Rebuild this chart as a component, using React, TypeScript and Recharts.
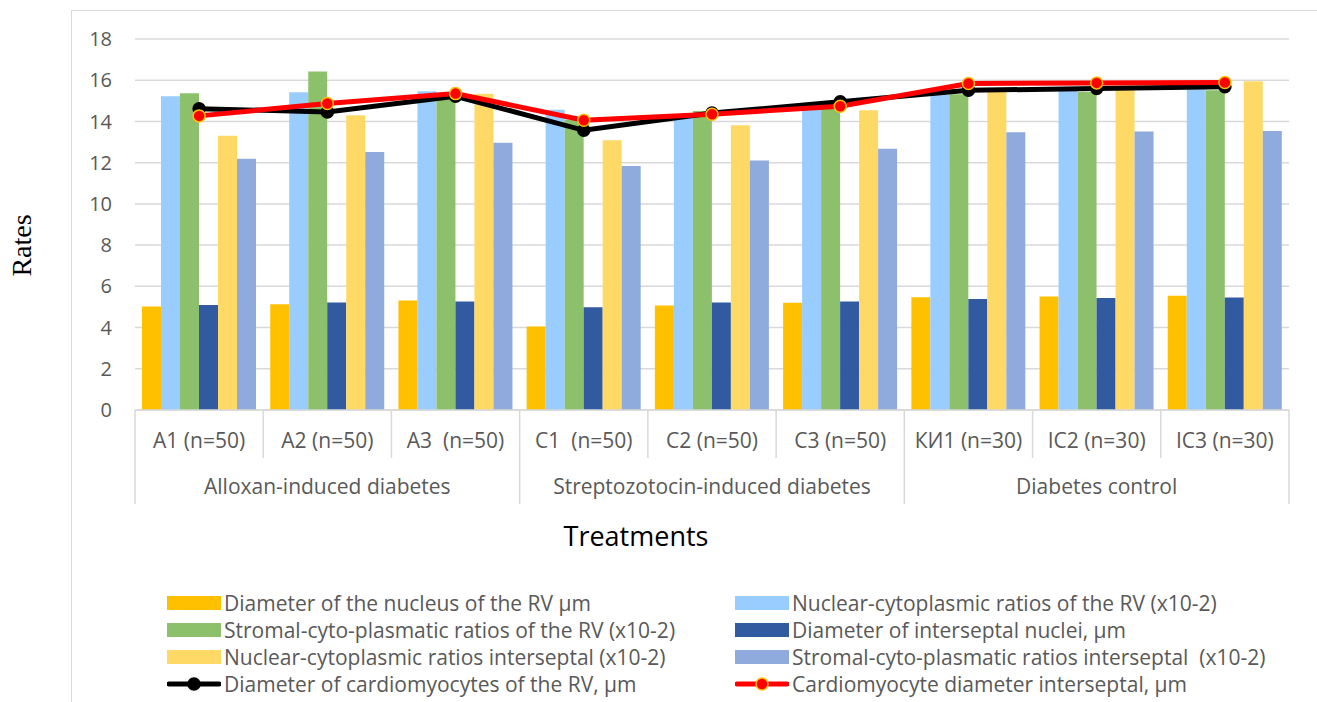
import { Bar, CartesianGrid, ComposedChart, Line, XAxis, YAxis } from "recharts";

const categories = [
  "A1 (n=50)",
  "A2 (n=50)",
  "A3  (n=50)",
  "C1  (n=50)",
  "C2 (n=50)",
  "C3 (n=50)",
  "КИ1 (n=30)",
  "IC2 (n=30)",
  "IC3 (n=30)",
];
const groups = ["Alloxan-induced diabetes", "Streptozotocin-induced diabetes", "Diabetes control"];
const yTicks = [0, 2, 4, 6, 8, 10, 12, 14, 16, 18];

const nucleusRV = [5.02, 5.13, 5.31, 4.05, 5.07, 5.2, 5.47, 5.51, 5.54];
const ncRatioRV = [15.22, 15.42, 15.47, 14.57, 14.3, 14.6, 15.3, 15.5, 15.55];
const stromalRV = [15.37, 16.42, 15.2, 14.1, 14.51, 14.7, 15.32, 15.43, 15.51];
const nucleiSeptal = [5.1, 5.21, 5.26, 4.99, 5.21, 5.26, 5.38, 5.43, 5.46];
const ncRatioSeptal = [13.3, 14.3, 15.34, 13.09, 13.81, 14.54, 15.5, 15.6, 15.95];
const stromalSeptal = [12.19, 12.52, 12.97, 11.84, 12.11, 12.68, 13.47, 13.51, 13.54];
const cardioRV = [14.62, 14.46, 15.22, 13.57, 14.41, 14.95, 15.51, 15.6, 15.68];
const cardioSeptal = [14.27, 14.87, 15.35, 14.06, 14.35, 14.74, 15.84, 15.87, 15.89];

const bars = [
  { key: "nucleusRV", name: "Diameter of the nucleus of the RV µm", color: "#FFC000", values: nucleusRV },
  { key: "ncRatioRV", name: "Nuclear-cytoplasmic ratios of the RV (x10-2)", color: "#99CCFF", values: ncRatioRV },
  { key: "stromalRV", name: "Stromal-cyto-plasmatic ratios of the RV (x10-2)", color: "#8DC06A", values: stromalRV },
  { key: "nucleiSeptal", name: "Diameter of interseptal nuclei, µm", color: "#325AA0", values: nucleiSeptal },
  { key: "ncRatioSeptal", name: "Nuclear-cytoplasmic ratios interseptal (x10-2)", color: "#FFD966", values: ncRatioSeptal },
  { key: "stromalSeptal", name: "Stromal-cyto-plasmatic ratios interseptal  (x10-2)", color: "#8FAADC", values: stromalSeptal },
];

const lines = [
  { key: "cardioRV", name: "Diameter of cardiomyocytes of the RV, µm", color: "#000000", dot: "#000000", values: cardioRV },
  { key: "cardioSeptal", name: "Cardiomyocyte diameter interseptal, µm", color: "#FF0000", dot: "#FFC000", values: cardioSeptal },
];

const data = categories.map((label, i) => {
  const row: Record<string, string | number> = { label };
  bars.forEach((b) => (row[b.key] = b.values[i]));
  lines.forEach((l) => (row[l.key] = l.values[i]));
  return row;
});

const FONT = "'Open Sans', sans-serif";
const TEXT = "#595959";
const GRID = "#d9d9d9";

// two-level category axis: sample label, separators and group name
function TreatmentTick(props: any) {
  const { x, y, payload, index } = props;
  const half = payload.offset ?? 64;
  const i = payload.index ?? index;
  const last = i === categories.length - 1;
  const groupStart = i % 3 === 0;
  return (
    <g>
      <line x1={x - half} x2={x - half} y1={y - 8} y2={groupStart ? y + 86 : y + 40} stroke={GRID} strokeWidth={1.5} />
      {last && <line x1={x + half} x2={x + half} y1={y - 8} y2={y + 86} stroke={GRID} strokeWidth={1.5} />}
      <text x={x} y={y + 30} textAnchor="middle" fill={TEXT} fontSize={21} fontFamily={FONT} style={{ whiteSpace: "pre" }}>
        {payload.value}
      </text>
      {i % 3 === 1 && (
        <text x={x} y={y + 76} textAnchor="middle" fill={TEXT} fontSize={21} fontFamily={FONT}>
          {groups[Math.floor(i / 3)]}
        </text>
      )}
    </g>
  );
}

function TreatmentsLabel(props: any) {
  const { viewBox } = props;
  return (
    <text x={636} y={viewBox.y + viewBox.height - 4} textAnchor="middle" fill="#000" fontSize={27} fontFamily={FONT}>
      Treatments
    </text>
  );
}

function RatesLabel(props: any) {
  const { viewBox } = props;
  const cx = viewBox.x + 21;
  const cy = viewBox.y + viewBox.height / 2 + 21;
  return (
    <text x={cx} y={cy} transform={`rotate(-90 ${cx} ${cy})`} textAnchor="middle" dominantBaseline="central" fontFamily="'Liberation Serif', 'Times New Roman', serif" fontSize={28} fill="#000">
      Rates
    </text>
  );
}

function LegendIcon({ item }: { item: any }) {
  if (item.dot) {
    return (
      <svg width={54} height={18} style={{ display: "block" }}>
        <line x1={2} x2={52} y1={9} y2={9} stroke={item.color} strokeWidth={5} strokeLinecap="round" />
        <circle cx={27} cy={9} r={6} fill={item.color} stroke={item.dot} strokeWidth={1.5} />
      </svg>
    );
  }
  return (
    <svg width={54} height={18} style={{ display: "block" }}>
      <rect x={0} y={2} width={54} height={14} fill={item.color} />
    </svg>
  );
}

function ChartLegend() {
  const items = [...bars, ...lines];
  return (
    <div style={{ position: "absolute", left: 167, top: 590, fontFamily: FONT, fontSize: 21, color: TEXT }}>
      {items.map((item, i) => (
        <div
          key={item.key}
          style={{
            position: "absolute",
            left: i % 2 === 0 ? 0 : 568,
            top: Math.floor(i / 2) * 27,
            display: "flex",
            alignItems: "center",
            whiteSpace: "pre",
            height: 26,
          }}
        >
          <LegendIcon item={item} />
          <span style={{ marginLeft: 3 }}>{item.name}</span>
        </div>
      ))}
    </div>
  );
}

export default function App() {
  return (
    <div style={{ position: "absolute", left: 0, top: 0, width: 1317, height: 702, overflow: "hidden", background: "#fff" }}>
      <div style={{ position: "absolute", left: 71, top: 10, width: 1300, height: 720, border: `1.5px solid ${GRID}` }} />
      <ComposedChart
        width={1317}
        height={702}
        data={data}
        margin={{ top: 39, right: 28, bottom: 152, left: 0 }}
        barCategoryGap={7}
        barGap={0}
        style={{ position: "absolute", left: 0, top: 0 }}
      >
        <CartesianGrid vertical={false} stroke={GRID} strokeWidth={1.5} />
        <XAxis
          dataKey="label"
          height={140}
          interval={0}
          tickLine={false}
          axisLine={{ stroke: GRID, strokeWidth: 1.5 }}
          tick={<TreatmentTick />}
          label={<TreatmentsLabel />}
        />
        <YAxis
          width={135}
          domain={[0, 18]}
          ticks={yTicks}
          axisLine={false}
          tickLine={false}
          tickMargin={17}
          tick={{ fill: TEXT, fontSize: 20, fontFamily: FONT }}
          label={<RatesLabel />}
        />
        {bars.map((b) => (
          <Bar key={b.key} dataKey={b.key} name={b.name} fill={b.color} isAnimationActive={false} />
        ))}
        {lines.map((l) => (
          <Line
            key={l.key}
            dataKey={l.key}
            name={l.name}
            type="linear"
            stroke={l.color}
            strokeWidth={5}
            dot={{ r: 6, fill: l.color, stroke: l.dot, strokeWidth: 1.5 }}
            activeDot={false}
            isAnimationActive={false}
          />
        ))}
      </ComposedChart>
      <ChartLegend />
    </div>
  );
}
